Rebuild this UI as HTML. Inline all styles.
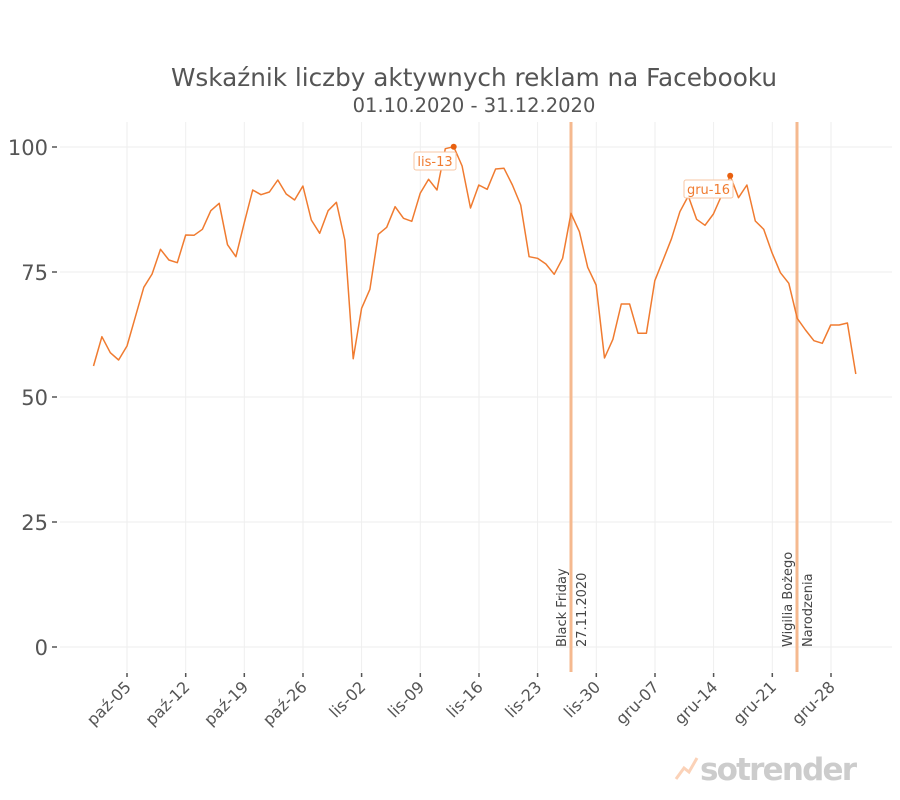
<!DOCTYPE html>
<html><head><meta charset="utf-8"><style>
body{margin:0;background:#fff;}
svg{display:block;font-family:"DejaVu Sans","Liberation Sans",sans-serif;}
</style></head><body>
<svg width="900" height="800" viewBox="0 0 900 800">
<text x="474" y="86" font-size="24.7" fill="#555" text-anchor="middle">Wskaźnik liczby aktywnych reklam na Facebooku</text>
<text x="474" y="112" font-size="19.5" fill="#555" text-anchor="middle">01.10.2020 - 31.12.2020</text>
<g stroke="#eee" stroke-width="1">
<line x1="60" x2="892" y1="147" y2="147"/><line x1="60" x2="892" y1="272" y2="272"/><line x1="60" x2="892" y1="397" y2="397"/><line x1="60" x2="892" y1="522" y2="522"/><line x1="60" x2="892" y1="647" y2="647"/>
<line x1="127" x2="127" y1="122" y2="672"/><line x1="185.7" x2="185.7" y1="122" y2="672"/><line x1="244.3" x2="244.3" y1="122" y2="672"/><line x1="303" x2="303" y1="122" y2="672"/><line x1="361.6" x2="361.6" y1="122" y2="672"/><line x1="420.3" x2="420.3" y1="122" y2="672"/><line x1="479" x2="479" y1="122" y2="672"/><line x1="537.6" x2="537.6" y1="122" y2="672"/><line x1="596.3" x2="596.3" y1="122" y2="672"/><line x1="655" x2="655" y1="122" y2="672"/><line x1="713.6" x2="713.6" y1="122" y2="672"/><line x1="772.3" x2="772.3" y1="122" y2="672"/><line x1="831" x2="831" y1="122" y2="672"/>
</g>
<g font-size="21" fill="#555" text-anchor="end">
<text x="48" y="155">100</text><text x="48" y="280">75</text><text x="48" y="405">50</text><text x="48" y="530">25</text><text x="48" y="655">0</text>
</g>
<g stroke="#555" stroke-width="1.5">
<line x1="52" x2="57" y1="147" y2="147"/><line x1="52" x2="57" y1="272" y2="272"/><line x1="52" x2="57" y1="397" y2="397"/><line x1="52" x2="57" y1="522" y2="522"/><line x1="52" x2="57" y1="647" y2="647"/>
<line x1="127" x2="127" y1="673" y2="677"/><line x1="185.7" x2="185.7" y1="673" y2="677"/><line x1="244.3" x2="244.3" y1="673" y2="677"/><line x1="303" x2="303" y1="673" y2="677"/><line x1="361.6" x2="361.6" y1="673" y2="677"/><line x1="420.3" x2="420.3" y1="673" y2="677"/><line x1="479" x2="479" y1="673" y2="677"/><line x1="537.6" x2="537.6" y1="673" y2="677"/><line x1="596.3" x2="596.3" y1="673" y2="677"/><line x1="655" x2="655" y1="673" y2="677"/><line x1="713.6" x2="713.6" y1="673" y2="677"/><line x1="772.3" x2="772.3" y1="673" y2="677"/><line x1="831" x2="831" y1="673" y2="677"/>
</g>
<g font-size="16" fill="#555" text-anchor="end">
<text transform="translate(132,688) rotate(-45)">paź-05</text>
<text transform="translate(190.7,688) rotate(-45)">paź-12</text>
<text transform="translate(249.3,688) rotate(-45)">paź-19</text>
<text transform="translate(308,688) rotate(-45)">paź-26</text>
<text transform="translate(366.6,688) rotate(-45)">lis-02</text>
<text transform="translate(425.3,688) rotate(-45)">lis-09</text>
<text transform="translate(484,688) rotate(-45)">lis-16</text>
<text transform="translate(542.6,688) rotate(-45)">lis-23</text>
<text transform="translate(601.3,688) rotate(-45)">lis-30</text>
<text transform="translate(660,688) rotate(-45)">gru-07</text>
<text transform="translate(718.6,688) rotate(-45)">gru-14</text>
<text transform="translate(777.3,688) rotate(-45)">gru-21</text>
<text transform="translate(836,688) rotate(-45)">gru-28</text>
</g>
<line x1="571" x2="571" y1="122" y2="672" stroke="#f5b98f" stroke-width="3"/>
<line x1="797" x2="797" y1="122" y2="672" stroke="#f5b98f" stroke-width="3"/>
<g font-size="13" fill="#444">
<text transform="translate(566,647) rotate(-90)">Black Friday</text>
<text transform="translate(586,647) rotate(-90)">27.11.2020</text>
<text transform="translate(792,647) rotate(-90)">Wigilia Bożego</text>
<text transform="translate(812,647) rotate(-90)">Narodzenia</text>
</g>
<polyline fill="none" stroke="#f07b30" stroke-width="1.5" stroke-linejoin="round" points="
93.5,366 101.9,336.7 110.3,352.7 118.6,360 127,346 135.4,316.7 143.8,287.3 152.1,274 160.5,249.3 168.9,260 177.3,262.7 185.7,235 194,235.3 202.4,229.3 210.8,210.7 219.2,203.3 227.5,244.7 235.9,256.7 244.3,222.7 252.7,190 261,194.7 269.4,192 277.8,180 286.2,194 294.6,200 302.9,186 311.3,220 319.7,233.3 328.1,210.7 336.4,202.3 344.8,240 353.2,358.7 361.6,308.3 369.9,289.3 378.3,234.3 386.7,227.3 395.1,206.7 403.5,218.3 411.8,221.3 420.2,193.3 428.6,179.3 437,190 445.3,148.7 453.7,146.7 462.1,166 470.5,208 478.8,185 487.2,189.3 495.6,169 504,168.3 512.4,185 520.7,205 529.1,256.7 537.5,258.3 545.9,264 554.2,274.3 562.6,258.3 571,213.3 579.4,231.7 587.7,267.3 596.1,285 604.5,358 612.9,339.3 621.3,304 629.6,304 638,333.3 646.4,333.3 654.8,280.7 663.1,260 671.5,238.7 679.9,211.7 688.3,196 696.6,219.3 705,225.3 713.4,214 721.8,195 730.2,175.7 738.5,197.7 746.9,185 755.3,221 763.7,229.3 772,252.7 780.4,272.7 788.8,283.3 797.2,318.3 805.5,330 813.9,340.7 822.3,343.3 830.7,325 839.1,325 847.4,323 855.8,374"/>
<circle cx="453.7" cy="146.7" r="3" fill="#e8600f"/>
<circle cx="730.2" cy="175.7" r="3" fill="#e8600f"/>
<rect x="414" y="152" width="42" height="18" rx="2" fill="#fff" stroke="#f7c7a5"/>
<text x="435" y="166" font-size="13" fill="#f07b30" text-anchor="middle">lis-13</text>
<rect x="684" y="180" width="49" height="18" rx="2" fill="#fff" stroke="#f7c7a5"/>
<text x="708.5" y="194" font-size="13" fill="#f07b30" text-anchor="middle">gru-16</text>
<path d="M676,779 L684,768 L689,772 L697,758" fill="none" stroke="#fbd2b8" stroke-width="3"/>
<text x="700" y="780" font-size="31" font-weight="bold" fill="#ccc" letter-spacing="-1.8">sotrender</text>
</svg>
</body></html>
